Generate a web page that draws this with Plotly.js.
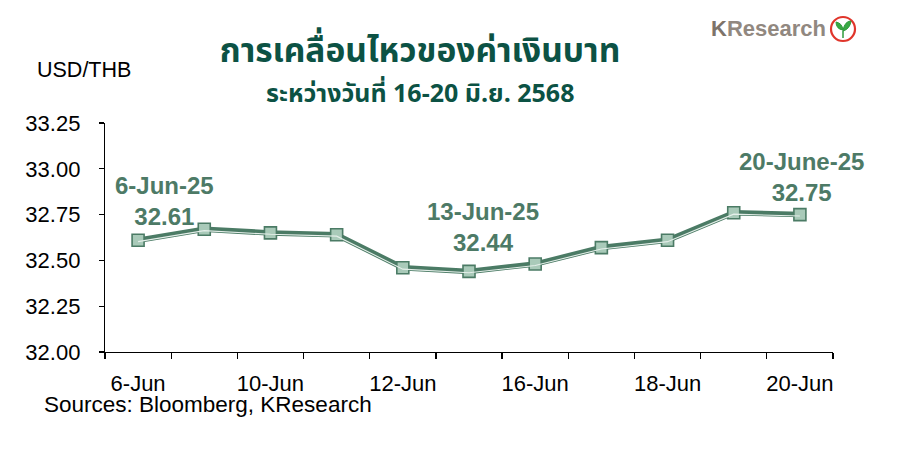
<!DOCTYPE html>
<html>
<head>
<meta charset="utf-8">
<script src="https://cdn.plot.ly/plotly-3.0.1.min.js"></script>
<style>html,body{margin:0;padding:0;background:#fff;}#chart{width:897px;height:454px;}</style>
</head>
<body>
<div id="chart"></div>
<script>
// Data
const dates = ['6-Jun','9-Jun','10-Jun','11-Jun','12-Jun','13-Jun','16-Jun','17-Jun','18-Jun','19-Jun','20-Jun'];
const usdthb = [32.61, 32.67, 32.65, 32.64, 32.46, 32.44, 32.48, 32.57, 32.61, 32.76, 32.75];
const tickLabels = ['6-Jun','10-Jun','12-Jun','16-Jun','18-Jun','20-Jun'];
const tickIdx = [0, 2, 4, 6, 8, 10];
const callouts = [
  {idx: 0, label: '6-Jun-25', value: '32.61'},
  {idx: 5, label: '13-Jun-25', value: '32.44'},
  {idx: 10, label: '20-June-25', value: '32.75'}
];
const yTicks = [32.00, 32.25, 32.50, 32.75, 33.00, 33.25];

// layout helpers (pixel -> paper)
const L = 105, R = 833, T = 123, B = 352, W = 897, H = 454;
const px = x => (x - L) / (R - L);
const py = y => (B - y) / (B - T);

const xi = dates.map((d, i) => i);
const dark = '#4b7b65';
const annColor = '#4d7a66';
const font = 'Arial, "Liberation Sans", sans-serif';
const thai = 'Tahoma, "Noto Sans Thai", "Loma", "Garuda", "Noto Sans", sans-serif';

const traces = [
  {x: xi, y: usdthb, type: 'scatter', mode: 'lines', line: {color: dark, width: 5.5}, hoverinfo: 'skip', showlegend: false},
  {x: xi, y: usdthb, type: 'scatter', mode: 'lines', yaxis: 'y2', line: {color: '#e4eee9', width: 1.1}, hoverinfo: 'skip', showlegend: false},
  {x: xi, y: usdthb, text: dates, type: 'scatter', mode: 'markers',
   marker: {symbol: 'square', size: 12, color: '#a9cab9', line: {color: dark, width: 1.6}}, showlegend: false}
];

const shift = 1.4 * 1.25 / (B - T);

const annotations = [
  {xref: 'paper', yref: 'paper', x: px(35), y: py(70), xanchor: 'left', yanchor: 'middle', text: 'USD/THB', showarrow: false,
   font: {family: font, size: 21.5, color: '#000'}},
  {xref: 'paper', yref: 'paper', x: px(420), y: py(94), xanchor: 'center', yanchor: 'middle', text: '<b>ระหว่างวันที่ 16-20 มิ.ย. 2568</b>', showarrow: false,
   font: {family: thai, size: 25, color: '#0c5244'}},
  {xref: 'paper', yref: 'paper', x: px(42), y: py(404), xanchor: 'left', yanchor: 'middle', text: 'Sources: Bloomberg, KResearch', showarrow: false,
   font: {family: font, size: 22.5, color: '#000'}},
  {xref: 'paper', yref: 'paper', x: px(709), y: py(29), xanchor: 'left', yanchor: 'middle', text: '<b><span style="color:#7d736a">K</span>Research</b>', showarrow: false,
   font: {family: font, size: 22, color: '#918880'}}
];
const calloutPos = [[164, 201], [482.5, 227], [801.5, 177]];
callouts.forEach((c, k) => {
  annotations.push({xref: 'paper', yref: 'paper', x: px(calloutPos[k][0]), y: py(calloutPos[k][1]), xanchor: 'center', yanchor: 'middle',
    text: '<b>' + c.label + '<br>' + c.value + '</b>', showarrow: false, font: {family: font, size: 24, color: annColor}});
});

const layout = {
  width: W, height: H,
  margin: {l: L, r: W - R, t: T, b: H - B, pad: 0},
  paper_bgcolor: '#fff', plot_bgcolor: '#fff',
  title: {text: '<b>การเคลื่อนไหวของค่าเงินบาท</b>', x: 420 / W, xanchor: 'center', y: 1 - 50 / H, yanchor: 'middle', yref: 'container',
    font: {family: thai, size: 33.5, color: '#0c5244'}},
  xaxis: {range: [-0.5, 10.5], tickvals: tickIdx, ticktext: tickLabels, ticks: '', showgrid: false, zeroline: false,
    showline: true, linecolor: '#000', linewidth: 1.2, tickfont: {family: font, size: 22, color: '#000'}, ticklabelstandoff: 11,
    minor: {tick0: -0.5, dtick: 1, ticks: 'outside', ticklen: 6, tickcolor: '#000', tickwidth: 1.2, showgrid: false}},
  yaxis: {range: [32, 33.25], tickvals: yTicks, ticktext: yTicks.map(v => v.toFixed(2)), ticks: 'outside', ticklen: 5, tickcolor: '#000', tickwidth: 1.2,
    showgrid: false, zeroline: false, showline: true, linecolor: '#000', linewidth: 1.2,
    tickfont: {family: font, size: 22, color: '#000'}, ticklabelstandoff: 14},
  yaxis2: {overlaying: 'y', range: [32 + shift, 33.25 + shift], visible: false},
  annotations: annotations,
  shapes: [
    {type: 'circle', xref: 'paper', yref: 'paper', x0: px(831), x1: px(855), y0: py(41), y1: py(17), line: {color: '#e0352b', width: 2.2}, fillcolor: '#fff'},
    {type: 'path', xref: 'paper', yref: 'paper', path: 'M ' + px(843) + ' ' + py(38) + ' L ' + px(843) + ' ' + py(30) + ' Q ' + px(836) + ' ' + py(29) + ' ' + px(836) + ' ' + py(22) + ' Q ' + px(842) + ' ' + py(23) + ' ' + px(843) + ' ' + py(30) + ' Q ' + px(845) + ' ' + py(21) + ' ' + px(851) + ' ' + py(21) + ' Q ' + px(850) + ' ' + py(29) + ' ' + px(843) + ' ' + py(31) + ' Z',
     line: {color: '#2f9a3c', width: 1}, fillcolor: '#38a843'}
  ],
  showlegend: false
};

Plotly.newPlot('chart', traces, layout, {staticPlot: true, displayModeBar: false});
</script>
</body>
</html>
